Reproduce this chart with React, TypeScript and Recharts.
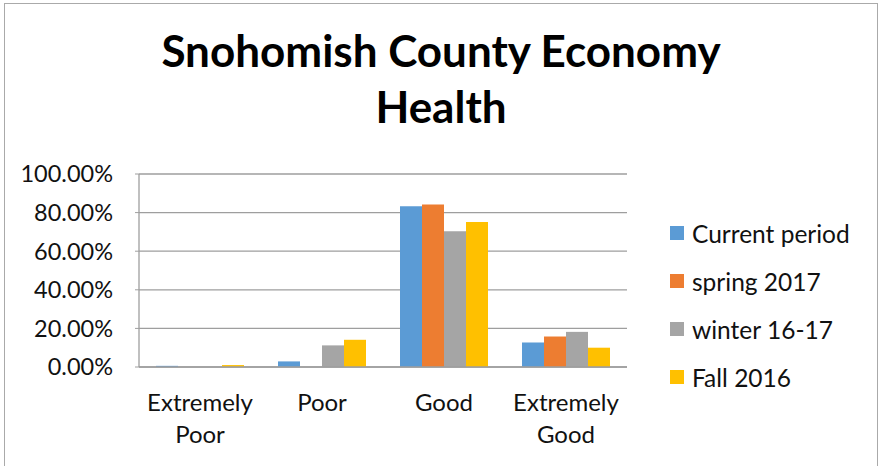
import React from "react";
import { BarChart, Bar, XAxis, YAxis, CartesianGrid } from "recharts";

const categories = ["Extremely Poor", "Poor", "Good", "Extremely Good"];
const currentPeriod = [0.6, 2.9, 83.3, 12.7];
const spring2017 = [0, 0, 84.2, 15.8];
const winter1617 = [0, 11.2, 70.4, 18.2];
const fall2016 = [1.0, 14.1, 75.1, 10.0];
const yTicks = [0, 20, 40, 60, 80, 100];

const series = [
  { key: "current", name: "Current period", color: "#5B9BD5" },
  { key: "spring", name: "spring 2017", color: "#ED7D31" },
  { key: "winter", name: "winter 16-17", color: "#A5A5A5" },
  { key: "fall", name: "Fall 2016", color: "#FFC000" },
];

const data = categories.map((c, i) => ({
  name: c,
  current: currentPeriod[i],
  spring: spring2017[i],
  winter: winter1617[i],
  fall: fall2016[i],
}));

const FONT = "Lato, 'Open Sans', sans-serif";

// category labels wrap onto two lines like Excel does
function CategoryTick(props: any) {
  const { x, y, payload } = props;
  const words = String(payload.value).split(" ");
  const lines = words.length > 1 && payload.value.length > 6 ? words : [payload.value];
  return (
    <text x={x} y={y} textAnchor="middle" fill="#111" fontSize={24} fontFamily={FONT}>
      {lines.map((l: string, i: number) => (
        <tspan key={i} x={x} dy={i === 0 ? 36 : 32}>
          {l}
        </tspan>
      ))}
    </text>
  );
}

export default function App() {
  return (
    <div
      style={{
        position: "absolute",
        left: 0,
        top: 0,
        width: 878,
        height: 466,
        background: "#fff",
        fontFamily: FONT,
        overflow: "hidden",
      }}
    >
      <div
        style={{
          position: "absolute",
          left: 4,
          top: 3,
          width: 872,
          height: 480,
          border: "1.5px solid #aaa",
        }}
      />
      <div
        style={{
          position: "absolute",
          left: 0,
          width: 882,
          top: 22,
          textAlign: "center",
          fontWeight: 700,
          fontSize: 44,
          lineHeight: "56px",
          color: "#000",
        }}
      >
        Snohomish County Economy
        <br />
        Health
      </div>
      <BarChart
        width={878}
        height={466}
        data={data}
        margin={{ top: 174, right: 251, bottom: 39, left: 19 }}
        barGap={0}
        style={{ position: "absolute", left: 0, top: 0 }}
      >
        <CartesianGrid vertical={false} stroke="#9e9e9e" strokeWidth={1.3} />
        <XAxis
          dataKey="name"
          height={60}
          tickLine={false}
          axisLine={{ stroke: "#9e9e9e", strokeWidth: 1.3 }}
          tick={<CategoryTick />}
          interval={0}
        />
        <YAxis
          width={120}
          domain={[0, 100]}
          ticks={yTicks}
          interval={0}
          tickFormatter={(v: number) => v.toFixed(2) + "%"}
          tickSize={4}
          tickMargin={22}
          axisLine={{ stroke: "#9e9e9e", strokeWidth: 1.3 }}
          tickLine={{ stroke: "#9e9e9e" }}
          tick={{ fill: "#111", fontSize: 23.5, fontFamily: FONT }}
        />
        {series.map((s) => (
          <Bar
            key={s.key}
            dataKey={s.key}
            name={s.name}
            fill={s.color}
            barSize={22}
            isAnimationActive={false}
          />
        ))}
      </BarChart>
      <div style={{ position: "absolute", left: 670, top: 209 }}>
        {series.map((s) => (
          <div
            key={s.key}
            style={{ display: "flex", alignItems: "center", height: 48, fontSize: 24.5, color: "#111" }}
          >
            <span
              style={{ width: 14, height: 14, background: s.color, marginRight: 8, display: "inline-block" }}
            />
            {s.name}
          </div>
        ))}
      </div>
    </div>
  );
}
